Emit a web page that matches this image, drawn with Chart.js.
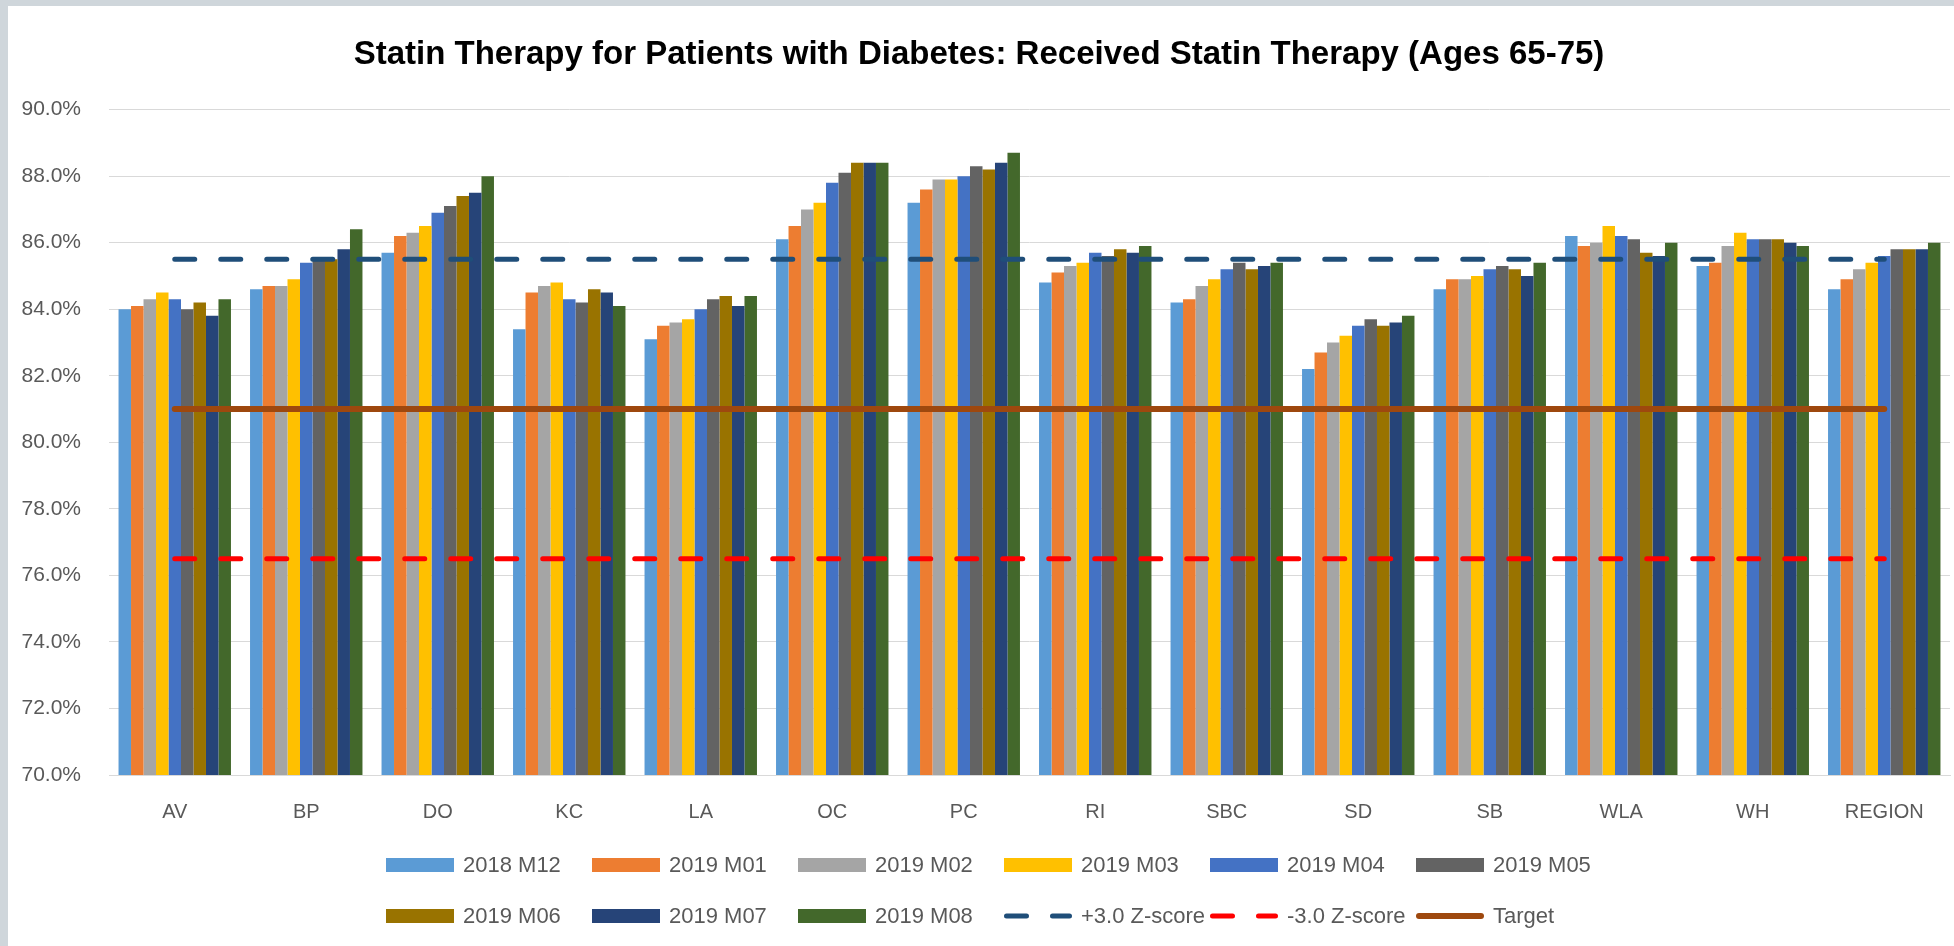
<!DOCTYPE html>
<html>
<head>
<meta charset="utf-8">
<title>Statin Therapy chart</title>
<script src="https://cdn.jsdelivr.net/npm/chart.js@4.4.1/dist/chart.umd.min.js"></script>
<style>
  html, body { margin: 0; padding: 0; }
  body { width: 1954px; height: 946px; background: #cfd6db; overflow: hidden; }
  #wrap { position: absolute; left: 8px; top: 6px; width: 1946px; height: 940px; background: #fff; }
</style>
</head>
<body>
<div id="wrap"><canvas id="chart"></canvas></div>
<script>
// Categories and series
const sites = ['AV', 'BP', 'DO', 'KC', 'LA', 'OC', 'PC', 'RI', 'SBC', 'SD', 'SB', 'WLA', 'WH', 'REGION'];

const m1812 = [84.0, 84.6, 85.7, 83.4, 83.1, 86.1, 87.2, 84.8, 84.2, 82.2, 84.6, 86.2, 85.3, 84.6];
const m1901 = [84.1, 84.7, 86.2, 84.5, 83.5, 86.5, 87.6, 85.1, 84.3, 82.7, 84.9, 85.9, 85.4, 84.9];
const m1902 = [84.3, 84.7, 86.3, 84.7, 83.6, 87.0, 87.9, 85.3, 84.7, 83.0, 84.9, 86.0, 85.9, 85.2];
const m1903 = [84.5, 84.9, 86.5, 84.8, 83.7, 87.2, 87.9, 85.4, 84.9, 83.2, 85.0, 86.5, 86.3, 85.4];
const m1904 = [84.3, 85.4, 86.9, 84.3, 84.0, 87.8, 88.0, 85.7, 85.2, 83.5, 85.2, 86.2, 86.1, 85.6];
const m1905 = [84.0, 85.5, 87.1, 84.2, 84.3, 88.1, 88.3, 85.6, 85.4, 83.7, 85.3, 86.1, 86.1, 85.8];
const m1906 = [84.2, 85.5, 87.4, 84.6, 84.4, 88.4, 88.2, 85.8, 85.2, 83.5, 85.2, 85.7, 86.1, 85.8];
const m1907 = [83.8, 85.8, 87.5, 84.5, 84.1, 88.4, 88.4, 85.7, 85.3, 83.6, 85.0, 85.6, 86.0, 85.8];
const m1908 = [84.3, 86.4, 88.0, 84.1, 84.4, 88.4, 88.7, 85.9, 85.4, 83.8, 85.4, 86.0, 85.9, 86.0];

// Reference lines
const plusZ  = [85.5, 85.5, 85.5, 85.5, 85.5, 85.5, 85.5, 85.5, 85.5, 85.5, 85.5, 85.5, 85.5, 85.5];
const minusZ = [76.5, 76.5, 76.5, 76.5, 76.5, 76.5, 76.5, 76.5, 76.5, 76.5, 76.5, 76.5, 76.5, 76.5];
const target = [81.0, 81.0, 81.0, 81.0, 81.0, 81.0, 81.0, 81.0, 81.0, 81.0, 81.0, 81.0, 81.0, 81.0];

// Y axis ticks
const yTicks = [70, 72, 74, 76, 78, 80, 82, 84, 86, 88, 90];

const FONT = '"Liberation Sans", Arial, sans-serif';
const TEXT = '#595959';

function barSet(label, data, color) {
    return {
        type: 'bar',
        label: label,
        data: data,
        backgroundColor: color,
        borderWidth: 0,
        categoryPercentage: 0.855,
        barPercentage: 1.0,
        order: 1
    };
}

function lineSet(label, data, color, width, dash) {
    return {
        type: 'line',
        label: label,
        data: data,
        borderColor: color,
        backgroundColor: color,
        borderWidth: width,
        borderDash: dash,
        borderCapStyle: 'round',
        pointRadius: 0,
        fill: false,
        order: 0
    };
}

// Excel-style legend: fixed grid of 6 columns
const legendGrid = {
    left: 378,
    rows: [859, 910],
    pitch: 206,
    perRow: 6,
    box: 68,
    boxH: 14
};

const gridLegend = {
    id: 'gridLegend',
    afterDraw(chart) {
        const ctx = chart.ctx;
        const g = legendGrid;
        ctx.save();
        ctx.font = '22px ' + FONT;
        ctx.textBaseline = 'middle';
        ctx.textAlign = 'left';
        chart.data.datasets.forEach((ds, i) => {
            const x = g.left + (i % g.perRow) * g.pitch;
            const y = g.rows[Math.floor(i / g.perRow)];
            if (ds.type === 'bar') {
                ctx.fillStyle = ds.backgroundColor;
                ctx.fillRect(x, y - g.boxH / 2, g.box, g.boxH);
            } else {
                ctx.save();
                ctx.strokeStyle = ds.borderColor;
                ctx.lineWidth = ds.borderWidth;
                ctx.lineCap = 'round';
                ctx.setLineDash(ds.borderDash || []);
                ctx.beginPath();
                ctx.moveTo(x + ds.borderWidth / 2, y);
                ctx.lineTo(x + g.box - ds.borderWidth / 2, y);
                ctx.stroke();
                ctx.restore();
            }
            ctx.fillStyle = TEXT;
            ctx.fillText(ds.label, x + g.box + 9, y + 1);
        });
        ctx.restore();
    }
};

new Chart(document.getElementById('chart'), {
    data: {
        labels: sites,
        datasets: [
            barSet('2018 M12', m1812, '#5B9BD5'),
            barSet('2019 M01', m1901, '#ED7D31'),
            barSet('2019 M02', m1902, '#A5A5A5'),
            barSet('2019 M03', m1903, '#FFC000'),
            barSet('2019 M04', m1904, '#4472C4'),
            barSet('2019 M05', m1905, '#636363'),
            barSet('2019 M06', m1906, '#997300'),
            barSet('2019 M07', m1907, '#264478'),
            barSet('2019 M08', m1908, '#43682B'),
            lineSet('+3.0 Z-score', plusZ, '#1F4E79', 5, [20, 26]),
            lineSet('-3.0 Z-score', minusZ, '#FF0000', 5, [20, 26]),
            lineSet('Target', target, '#9E480E', 6, [])
        ]
    },
    options: {
        responsive: true,
        maintainAspectRatio: false,
        animation: false,
        layout: { padding: { left: 0, right: 4, top: 0, bottom: 111 } },
        plugins: {
            legend: { display: false },
            tooltip: { enabled: false },
            title: {
                display: true,
                text: 'Statin Therapy for Patients with Diabetes: Received Statin Therapy (Ages 65-75)',
                color: '#000000',
                font: { family: FONT, size: 33, weight: 'bold' },
                padding: { top: 29, bottom: 35 }
            }
        },
        scales: {
            x: {
                offset: true,
                grid: { display: false },
                border: { display: true, color: '#d9d9d9', width: 1 },
                ticks: {
                    color: TEXT,
                    padding: 17,
                    font: { family: FONT, size: 20 },
                    maxRotation: 0,
                    autoSkip: false
                },
                afterFit(scale) { scale.height = 60; }
            },
            y: {
                min: 70,
                max: 90,
                afterBuildTicks(scale) {
                    scale.ticks = yTicks.map(v => ({ value: v }));
                },
                grid: { color: '#d9d9d9', lineWidth: 1, drawTicks: false },
                border: { display: false },
                ticks: {
                    color: TEXT,
                    padding: 28,
                    font: { family: FONT, size: 21 },
                    callback: v => v.toFixed(1) + '%'
                },
                afterFit(scale) { scale.width = 101; }
            }
        }
    },
    plugins: [gridLegend]
});
</script>
</body>
</html>
